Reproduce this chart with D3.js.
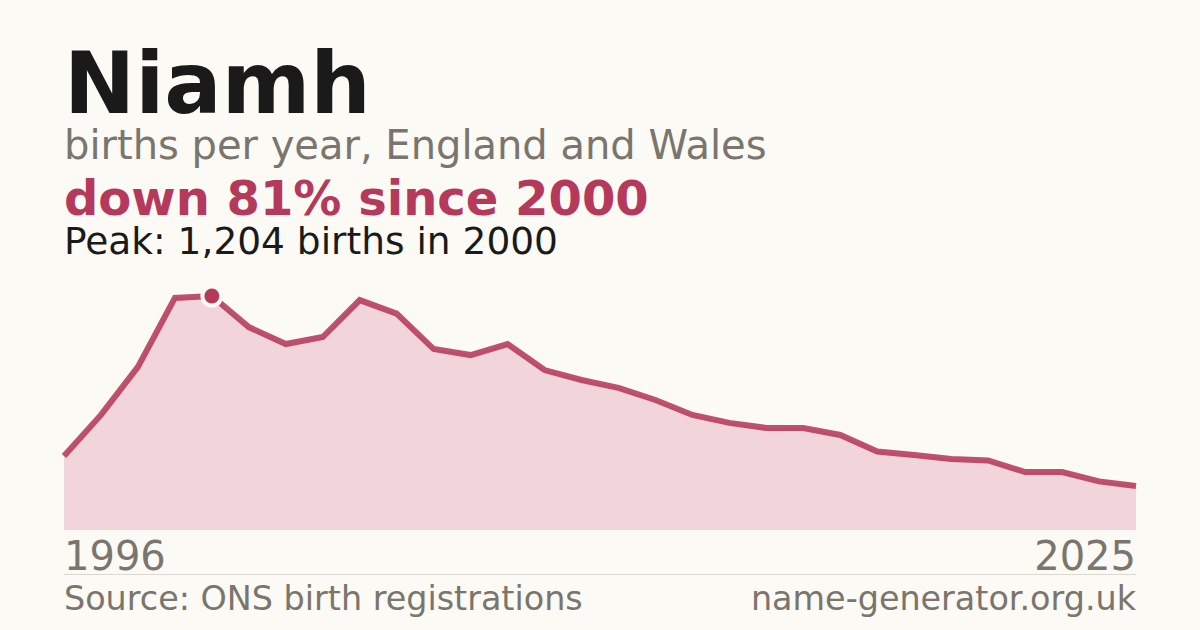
<!DOCTYPE html>
<html>
<head>
<meta charset="utf-8">
<script src="https://cdn.jsdelivr.net/npm/d3@7/dist/d3.min.js"></script>
<style>
  html, body { margin: 0; padding: 0; background: #fbfaf5; }
  svg { display: block; }
  text { font-family: "DejaVu Sans", sans-serif; }
</style>
</head>
<body>
<svg id="chart" width="1200" height="630"></svg>
<script>
const years = d3.range(1996, 2026);
const births = [381, 592, 839, 1194, 1204, 1044, 957, 993, 1183, 1113,
                931, 900, 957, 823, 772, 731, 669, 592, 551, 525,
                525, 489, 404, 386, 365, 358, 298, 298, 250, 226];
const nameTitle = "Niamh";
const subtitle = "births per year, England and Wales";
const sourceText = "Source: ONS birth registrations";
const siteText = "name-generator.org.uk";

const data = years.map((y, i) => ({ year: y, value: births[i] }));
const peak = data.reduce((a, b) => (b.value > a.value ? b : a));
const last = data[data.length - 1];
const pctDown = Math.floor((1 - last.value / peak.value) * 100);

const svg = d3.select("#chart");
svg.append("rect").attr("width", 1200).attr("height", 630).attr("fill", "#fbfaf5");

const x = d3.scaleLinear().domain([years[0], years[years.length - 1]]).range([64, 1136]);
const y = d3.scaleLinear().domain([0, peak.value]).range([530, 296]);

const red = "#b5395a";

svg.append("path")
  .datum(data)
  .attr("fill", "#f2d5db")
  .attr("d", d3.area().x(d => x(d.year)).y0(y(0)).y1(d => y(d.value)));

svg.append("path")
  .datum(data)
  .attr("fill", "none")
  .attr("stroke", red)
  .attr("stroke-opacity", 0.88)
  .attr("stroke-width", 6)
  .attr("stroke-linejoin", "miter")
  .attr("d", d3.line().x(d => x(d.year)).y(d => y(d.value)));

// peak marker with halo
svg.append("circle")
  .attr("cx", x(peak.year)).attr("cy", y(peak.value))
  .attr("r", 11.5).attr("fill", "#fbfaf5");
svg.append("circle")
  .attr("cx", x(peak.year)).attr("cy", y(peak.value))
  .attr("r", 7.5).attr("fill", red);

// Titles
svg.append("text").attr("x", 64).attr("y", 113)
  .attr("font-size", 85).attr("font-weight", "bold").attr("fill", "#1a1a1a")
  .text(nameTitle);
svg.append("text").attr("x", 64).attr("y", 159)
  .attr("font-size", 40).attr("fill", "#7a756d")
  .text(subtitle);
svg.append("text").attr("x", 64).attr("y", 215)
  .attr("font-size", 48).attr("font-weight", "bold").attr("fill", red)
  .text(`down ${pctDown}% since ${peak.year}`);
svg.append("text").attr("x", 64).attr("y", 254)
  .attr("font-size", 37.5).attr("fill", "#1a1a1a")
  .text(`Peak: ${d3.format(",")(peak.value)} births in ${peak.year}`);

// Axis year labels
const axisG = svg.append("g");
axisG.append("text").attr("x", x(years[0])).attr("y", 570)
  .attr("font-size", 40).attr("fill", "#7a756d")
  .text(years[0]);
axisG.append("text").attr("x", x(years[years.length - 1])).attr("y", 570)
  .attr("text-anchor", "end")
  .attr("font-size", 40).attr("fill", "#7a756d")
  .text(years[years.length - 1]);

svg.append("line").attr("x1", 64).attr("x2", 1136).attr("y1", 574.5).attr("y2", 574.5)
  .attr("stroke", "#dcd8d0").attr("stroke-width", 1);

svg.append("text").attr("x", 64).attr("y", 610)
  .attr("font-size", 33.4).attr("fill", "#7a756d").text(sourceText);
svg.append("text").attr("x", 1136).attr("y", 610).attr("text-anchor", "end")
  .attr("font-size", 33.4).attr("fill", "#7a756d").text(siteText);
</script>
</body>
</html>
